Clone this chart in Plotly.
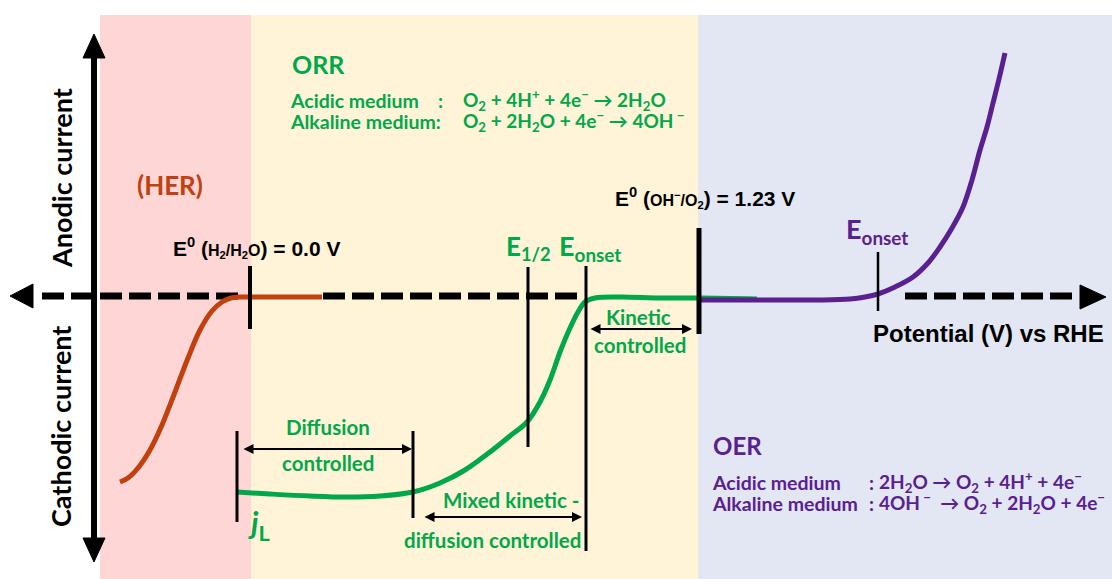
import plotly.graph_objects as go

# ---- canvas coordinates (x to the right, y downwards) ----
W, H = 1112, 579

# background regions: (x0, x1, colour)
regions_x0 = [100, 251, 698]
regions_x1 = [251, 698, 1112]
regions_col = ["#FFD6D6", "#FFF4D8", "#E2E7F3"]
region_top = 15

# HER polarisation curve (cathodic, left)
her_x = [120, 128, 138, 150, 162, 175, 188, 200, 212, 222, 231, 240, 250, 280, 322]
her_y = [482, 478, 468, 450, 425, 392, 358, 330, 311, 302, 298, 297, 297, 297, 297]

# ORR polarisation curve
orr_x = [237, 270, 310, 347, 380, 413, 440, 465, 490, 510, 527, 540, 550, 560, 570, 578, 585, 595, 620, 660, 700, 757]
orr_y = [492, 494, 496, 497, 496, 492, 483, 470, 452, 436, 422, 402, 380, 352, 328, 312, 302, 298, 297, 298, 298, 299]

# OER polarisation curve
oer_x = [697, 760, 820, 850, 865, 878, 895, 913, 928, 940, 952, 963, 972, 980, 987, 993, 999, 1005]
oer_y = [300, 300, 300, 299, 297, 294, 287, 277, 263, 247, 228, 207, 180, 150, 127, 103, 79, 53]

# dashed potential axis segments
axis_seg_x0 = [42, 323, 905]
axis_seg_x1 = [240, 578, 1076]
axis_y = 296

# vertical current axis
vaxis_x = 94
vaxis_y0, vaxis_y1 = 57, 540

# marker ticks: (x, y_top, y_bottom, width)
tick_x = [250, 237, 413, 528, 586, 699, 878]
tick_top = [266, 431, 431, 267, 266, 228, 252]
tick_bot = [329, 522, 518, 447, 551, 334, 311]
tick_w = [4, 3, 3, 3, 3, 5, 2.5]

# double-headed range arrows: (x_start, x_end, y)
rng_x0 = [242, 423, 589]
rng_x1 = [412, 582, 692]
rng_y = [449, 517, 329]

GREEN = "#00A84A"
PURPLE = "#5A2091"
BROWN = "#C0410E"
BLACK = "#000000"

fig = go.Figure()

# background bands
for x0, x1, c in zip(regions_x0, regions_x1, regions_col):
    fig.add_shape(type="rect", x0=x0, x1=x1, y0=region_top, y1=H,
                  fillcolor=c, line_width=0, layer="below")

# dashed axis
for x0, x1 in zip(axis_seg_x0, axis_seg_x1):
    fig.add_trace(go.Scatter(x=[x0, x1], y=[axis_y, axis_y], mode="lines",
                             line=dict(color=BLACK, width=7, dash="22px,7px"),
                             hoverinfo="skip"))

# curves
fig.add_trace(go.Scatter(x=orr_x, y=orr_y, mode="lines",
                         line=dict(color=GREEN, width=5, shape="spline"), hoverinfo="skip"))
fig.add_trace(go.Scatter(x=oer_x, y=oer_y, mode="lines",
                         line=dict(color=PURPLE, width=5, shape="spline"), hoverinfo="skip"))
fig.add_trace(go.Scatter(x=her_x, y=her_y, mode="lines",
                         line=dict(color=BROWN, width=5, shape="spline"), hoverinfo="skip"))

# vertical axis line
fig.add_trace(go.Scatter(x=[vaxis_x, vaxis_x], y=[vaxis_y0, vaxis_y1], mode="lines",
                         line=dict(color=BLACK, width=6), hoverinfo="skip"))

# arrowheads (filled triangles)
heads = [
    ([94, 83, 105, 94], [34, 58, 58, 34]),          # up
    ([94, 83, 105, 94], [562, 538, 538, 562]),      # down
    ([10, 33, 33, 10], [296, 284, 308, 296]),       # left
    ([1106, 1080, 1080, 1106], [297, 285, 309, 297]),  # right
]
for hx, hy in heads:
    fig.add_trace(go.Scatter(x=hx, y=hy, mode="lines", fill="toself",
                             fillcolor=BLACK, line=dict(color=BLACK, width=1),
                             hoverinfo="skip"))

# tick markers
for x, t, b, w in zip(tick_x, tick_top, tick_bot, tick_w):
    fig.add_trace(go.Scatter(x=[x, x], y=[t, b], mode="lines",
                             line=dict(color=BLACK, width=w), hoverinfo="skip"))

# range arrows
for x0, x1, y in zip(rng_x0, rng_x1, rng_y):
    fig.add_annotation(x=x1, y=y, ax=x0, ay=y, xref="x", yref="y",
                       axref="x", ayref="y", text="", showarrow=True,
                       arrowhead=2, startarrowhead=2, arrowside="end+start",
                       arrowsize=1, arrowwidth=2, arrowcolor=BLACK,
                       standoff=0, startstandoff=0)

LATO = "Lato"
ARIAL = "Liberation Sans"


def label(text, x, y, size, color, xanchor="left", family=LATO, angle=0):
    fig.add_annotation(x=x, y=y, xref="x", yref="y", text=text, showarrow=False,
                       xanchor=xanchor, yanchor="middle", textangle=angle,
                       font=dict(family=family, size=size, color=color, weight="bold"))


# axis titles
label("Anodic current", 61, 178, 27, BLACK, "center", angle=-90)
label("Cathodic current", 60, 427, 27, BLACK, "center", angle=-90)
label("Potential (V) vs RHE", 871, 333, 24, BLACK, family=ARIAL)

# HER
label("(HER)", 170, 185, 26, BROWN, "center")

# ORR block
label("ORR", 290, 64, 25, GREEN)
label("Acidic medium", 288, 100, 19.5, GREEN)
label("Alkaline medium:", 288, 121, 19.5, GREEN)
label(":", 436, 100, 19.5, GREEN)
label("O<sub>2</sub> + 4H<sup>+</sup> + 4e<sup>−</sup> → 2H<sub>2</sub>O", 461, 100, 19, GREEN)
label("O<sub>2</sub> + 2H<sub>2</sub>O + 4e<sup>−</sup> → 4OH<sup> −</sup>", 461, 121, 19, GREEN)

# OER block
label("OER", 711, 445, 24, PURPLE)
label("Acidic medium", 710, 482, 19.5, PURPLE)
label("Alkaline medium", 710, 503, 19.5, PURPLE)
label(":", 867, 482, 19.5, PURPLE)
label(":", 867, 503, 19.5, PURPLE)
label("2H<sub>2</sub>O → O<sub>2</sub> + 4H<sup>+</sup> + 4e<sup>−</sup>", 877, 482, 19, PURPLE)
label("4OH<sup> −</sup>  → O<sub>2</sub> + 2H<sub>2</sub>O + 4e<sup>−</sup>", 877, 503, 19, PURPLE)

# standard potentials
label("E<sup>0</sup> (<span style='font-size:16px'>H<sub>2</sub>/H<sub>2</sub>O</span>) = 0.0 V",
      171, 247, 21, BLACK, family=ARIAL)
label("E<sup>0</sup> (<span style='font-size:16px'>OH<sup>−</sup>/O<sub>2</sub></span>) = 1.23 V",
      613, 197, 21, BLACK, family=ARIAL)

# characteristic potentials
label("E<sub>1/2</sub>", 504, 247, 26, GREEN)
label("E<sub>onset</sub>", 557, 247, 27, GREEN)
label("E<sub>onset</sub>", 844, 230, 27, PURPLE)
label("<i>j</i><sub>L</sub>", 246, 524, 31, GREEN)

# regime labels
label("Kinetic", 638, 317, 20.5, GREEN, "center")
label("controlled", 640, 345, 20.5, GREEN, "center")
label("Diffusion", 328, 427, 20.5, GREEN, "center")
label("controlled", 328, 463, 20.5, GREEN, "center")
label("Mixed kinetic -", 511, 500, 20.5, GREEN, "center")
label("diffusion controlled", 492, 540, 20.5, GREEN, "center")

fig.update_layout(
    width=W, height=H, margin=dict(l=0, r=0, t=0, b=0),
    paper_bgcolor="white", plot_bgcolor="white", showlegend=False,
    xaxis=dict(range=[0, W], visible=False, fixedrange=True),
    yaxis=dict(range=[H, 0], visible=False, fixedrange=True),
)

fig.write_html("out.html", config={"displayModeBar": False})
